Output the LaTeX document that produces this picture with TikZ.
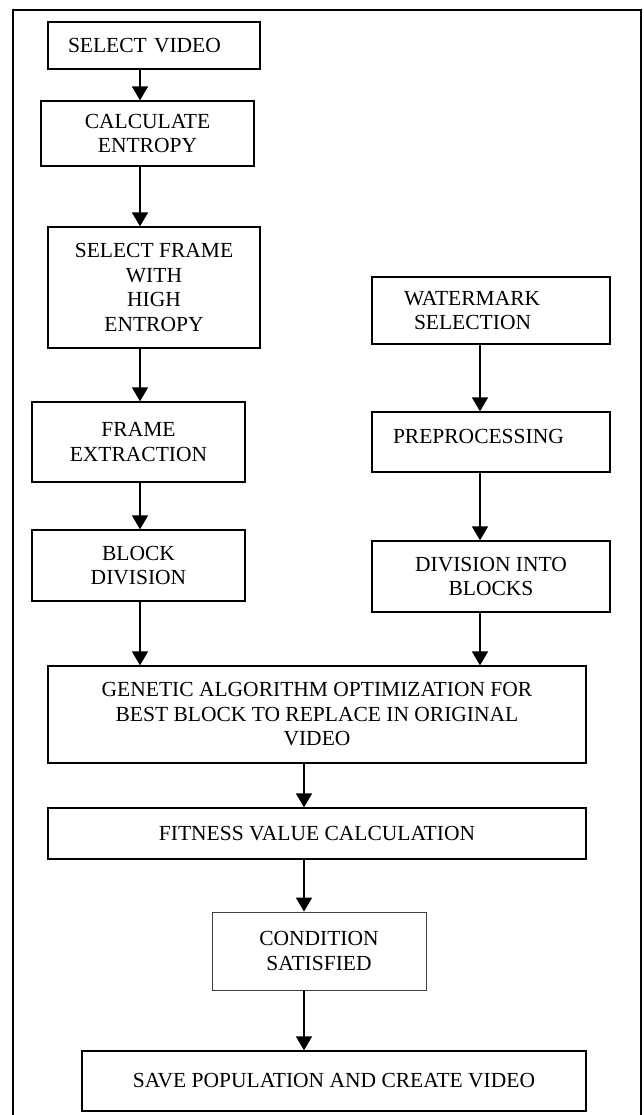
\documentclass[tikz,border=0pt]{standalone}
\usepackage{fontspec}
\setmainfont{Liberation Serif}
\usetikzlibrary{arrows.meta}
\tikzset{
    stepbox/.style={draw, rectangle, line width=1.3pt, inner sep=0pt, align=center,
        font=\fontsize{21.5}{24.5}\selectfont},
    thinbox/.style={stepbox, line width=0.8pt, draw=black!75},
    flow/.style={line width=1.5pt, -{Triangle[width=16pt, length=14pt]}}
}

\begin{document}
\begin{tikzpicture}[x=1pt, y=-1pt]
            \useasboundingbox (0,0) rectangle (644,1115);
            % outer frame
            \draw[line width=1.3pt] (13,1115) -- (13,10) -- (641,10) -- (641,1115);

            % video branch
            \node[stepbox, minimum width=212, minimum height=47, align=left,
                  text width=172pt, inner xsep=20pt] (sv) at (154,45.5) {SELECT VIDEO};
            \node[stepbox, minimum width=213, minimum height=65] (ce) at (147.5,133.5) {CALCULATE\\ENTROPY};
            \node[stepbox, minimum width=212, minimum height=121] (sf) at (154,287.5) {SELECT FRAME\\WITH\\HIGH\\ENTROPY};
            \node[stepbox, minimum width=213, minimum height=80] (fe) at (138.5,442) {FRAME\\EXTRACTION};
            \node[stepbox, minimum width=213, minimum height=71] (bd) at (138.5,565.5) {BLOCK\\DIVISION};

            % watermark branch
            \node[stepbox, minimum width=238, minimum height=67, align=left,
                  text width=174pt, inner xsep=32pt] (wm) at (491,310.5) {WATERMARK\\\hspace*{10pt}SELECTION};
            \node[stepbox, minimum width=238, minimum height=60, align=left,
                  text width=196pt, inner xsep=21pt, text depth=12pt] (pp) at (491,442) {PREPROCESSING};
            \node[stepbox, minimum width=238, minimum height=71] (db) at (491,576.5) {DIVISION INTO\\BLOCKS};

            % optimisation
            \node[stepbox, minimum width=538, minimum height=97] (ga) at (317,714.5)
                {GENETIC ALGORITHM OPTIMIZATION FOR\\BEST BLOCK TO REPLACE IN ORIGINAL\\VIDEO};
            \node[stepbox, minimum width=538, minimum height=51] (fv) at (317,833.5) {FITNESS VALUE CALCULATION};
            \node[thinbox, minimum width=214, minimum height=78] (cs) at (319,951) {CONDITION\\SATISFIED};
            \node[stepbox, minimum width=504, minimum height=60] (sp) at (334,1081) {SAVE POPULATION AND CREATE VIDEO};

            % arrow columns
            \coordinate (left) at (140,0);
            \coordinate (right) at (480,0);
            \coordinate (mid) at (304,0);

            \draw[flow] (sv.south -| left) -- (ce.north -| left);
            \draw[flow] (ce.south -| left) -- (sf.north -| left);
            \draw[flow] (sf.south -| left) -- (fe.north -| left);
            \draw[flow] (fe.south -| left) -- (bd.north -| left);
            \draw[flow] (bd.south -| left) -- (ga.north -| left);
            \draw[flow] (wm.south -| right) -- (pp.north -| right);
            \draw[flow] (pp.south -| right) -- (db.north -| right);
            \draw[flow] (db.south -| right) -- (ga.north -| right);
            \draw[flow] (ga.south -| mid) -- (fv.north -| mid);
            \draw[flow] (fv.south -| mid) -- (cs.north -| mid);
            \draw[flow] (cs.south -| mid) -- (sp.north -| mid);
        \end{tikzpicture}
\end{document}
